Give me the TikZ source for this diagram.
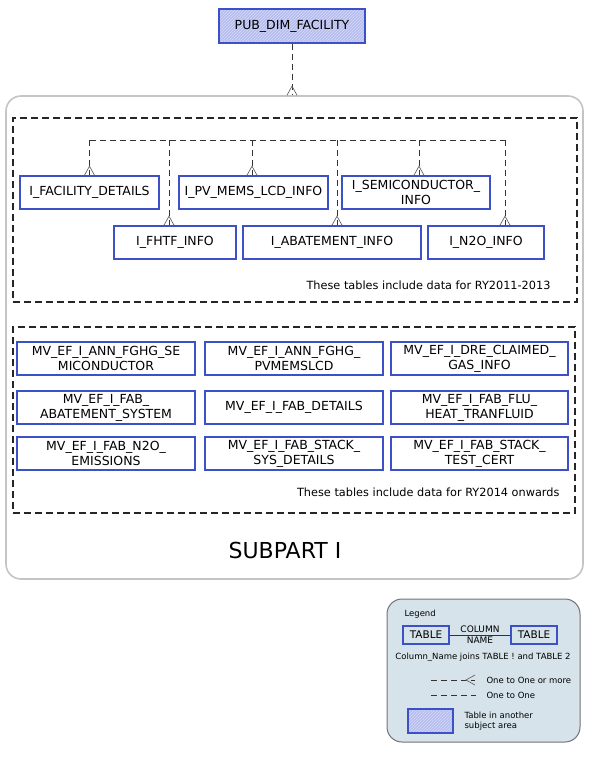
\documentclass[tikz,border=0pt]{standalone}
\usepackage{fontspec}
\setmainfont{DejaVu Sans}
\usetikzlibrary{positioning,calc,patterns}
\definecolor{tblblue}{RGB}{60,80,200}
\definecolor{hubfill}{RGB}{182,188,238}
\definecolor{hubline}{RGB}{214,218,248}
\definecolor{legendbg}{RGB}{214,227,234}
\definecolor{framegray}{RGB}{196,196,196}
\tikzset{
  tbl/.style={shape=rectangle,draw=tblblue,line width=1.6pt,minimum height=33pt,inner sep=1pt,align=center,font=\fontsize{12.5}{15}\selectfont},
  hub/.style={tbl,preaction={fill=hubfill},pattern=north east lines,pattern color=hubline},
  key/.style={shape=rectangle,draw=tblblue,line width=1.6pt,minimum width=46pt,minimum height=18pt,inner sep=1pt,font=\fontsize{10.5}{12}\selectfont},
  rel/.style={draw=black!80,line width=0.8pt,dash pattern=on 6pt off 4pt},
  foot/.style={draw=black!60,line width=0.7pt},
  group/.style={shape=rectangle,draw=black!85,line width=1.3pt,dash pattern=on 7pt off 4pt},
  note/.style={font=\fontsize{11.3}{13}\selectfont},
  small/.style={font=\fontsize{8.5}{10}\selectfont}
}
\newcommand{\crowfoot}[1]{\draw[foot] ([xshift=-5pt]#1) -- ([yshift=9pt]#1) -- ([xshift=5pt]#1);}
\begin{document}
\begin{tikzpicture}[x=1pt,y=-1pt]
  \useasboundingbox (0,0) rectangle (591,761);
  % subject area and its two groups
  \path (294.5,337.5) node (area) [shape=rectangle,draw=framegray,line width=1.6pt,rounded corners=15pt,minimum width=577pt,minimum height=483pt] {};
  \path (295,210) node (old) [group,minimum width=564pt,minimum height=184pt] {};
  \path (294,420) node (new) [group,minimum width=562pt,minimum height=186pt] {};
  \path (285,550) node (subpart) [font=\fontsize{22}{26}\selectfont] {SUBPART I};
  \path (292,26) node (pub) [hub,minimum width=146pt,minimum height=34pt] {PUB\_DIM\_FACILITY};
  % RY2011-2013 tables
  \path (89.5,192.5) node (fac) [tbl,minimum width=139pt] {I\_FACILITY\_DETAILS}
  (253.5,192.5) node (pvmems) [tbl,minimum width=149pt] {I\_PV\_MEMS\_LCD\_INFO}
  (416,192.5) node (semi) [tbl,minimum width=148pt] {I\_SEMICONDUCTOR\_\\INFO}
  (175,242.5) node (fhtf) [tbl,minimum width=122pt] {I\_FHTF\_INFO}
  (332,242.5) node (abate) [tbl,minimum width=178pt] {I\_ABATEMENT\_INFO}
  (486,242.5) node (ntwoo) [tbl,minimum width=116pt] {I\_N2O\_INFO};
  \path (554,285) node [note,anchor=east] {These tables include data for RY2011-2013};
  % RY2014 tables
  \path (106,358.5) node (mva) [tbl,minimum width=178pt] {MV\_EF\_I\_ANN\_FGHG\_SE\\MICONDUCTOR}
  (294,358.5) node (mvb) [tbl,minimum width=178pt] {MV\_EF\_I\_ANN\_FGHG\_\\PVMEMSLCD}
  (479.5,358.5) node (mvc) [tbl,minimum width=177pt] {MV\_EF\_I\_DRE\_CLAIMED\_\\GAS\_INFO}
  (106,407.5) node (mvd) [tbl,minimum width=178pt] {MV\_EF\_I\_FAB\_\\ABATEMENT\_SYSTEM}
  (294,407.5) node (mve) [tbl,minimum width=178pt] {MV\_EF\_I\_FAB\_DETAILS}
  (479.5,407.5) node (mvf) [tbl,minimum width=177pt] {MV\_EF\_I\_FAB\_FLU\_\\HEAT\_TRANFLUID}
  (106,453.5) node (mvg) [tbl,minimum width=178pt] {MV\_EF\_I\_FAB\_N2O\_\\EMISSIONS}
  (294,453.5) node (mvh) [tbl,minimum width=178pt] {MV\_EF\_I\_FAB\_STACK\_\\SYS\_DETAILS}
  (479.5,453.5) node (mvi) [tbl,minimum width=177pt] {MV\_EF\_I\_FAB\_STACK\_\\TEST\_CERT};
  \path (563,492) node [note,anchor=east] {These tables include data for RY2014 onwards};
  % joins
  \coordinate (areain) at (pub.south |- area.north);
  \draw[rel] (pub.south) -- (areain);
  \crowfoot{areain}
  \coordinate (bus) at (0,140);
  \coordinate (facin) at (fac.north);
  \coordinate (fhtfin) at ([xshift=-6pt]fhtf.north);
  \coordinate (pvin) at ([xshift=-1.5pt]pvmems.north);
  \coordinate (abin) at ([xshift=5pt]abate.north);
  \coordinate (semiin) at ([xshift=3pt]semi.north);
  \coordinate (nin) at ([xshift=19pt]ntwoo.north);
  \draw[rel] (bus -| facin) -- (bus -| nin);
  \foreach \c in {facin,fhtfin,pvin,abin,semiin,nin} {
    \draw[rel] (bus -| \c) -- (\c);
    \crowfoot{\c}
  }
  % legend
  \path (483.5,670.5) node (legend) [shape=rectangle,draw=black!55,line width=1pt,fill=legendbg,rounded corners=15pt,minimum width=193pt,minimum height=143pt] {};
  \path (401,614) node [small,anchor=west] {Legend};
  \path (426,635) node (ta) [key] {TABLE}
  (534,635) node (tb) [key] {TABLE};
  \draw[black!80,line width=0.7pt] (ta) -- (tb);
  \path (480,635) node (col) [font=\fontsize{9}{11}\selectfont,align=center,inner sep=0pt] {COLUMN\\NAME};
  \path (483,657) node [small] {Column\_Name joins TABLE ! and TABLE 2};
  \coordinate (manya) at (431,680);
  \coordinate (manyb) at (475,680);
  \draw[rel] (manya) -- (manyb);
  \draw[foot] ([yshift=5pt]manyb) -- ([xshift=-9pt]manyb) -- ([yshift=-5pt]manyb);
  \path (483,680) node [small,anchor=west] {One to One or more};
  \coordinate (onea) at (431,695);
  \coordinate (oneb) at (476,695);
  \draw[rel] (onea) -- (oneb);
  \path (483,695) node [small,anchor=west] {One to One};
  \path (430.5,721) node (keyhub) [hub,minimum width=45pt,minimum height=24pt] {};
  \path (461,721) node [small,anchor=west,align=left] {Table in another\\subject area};
\end{tikzpicture}
\end{document}
